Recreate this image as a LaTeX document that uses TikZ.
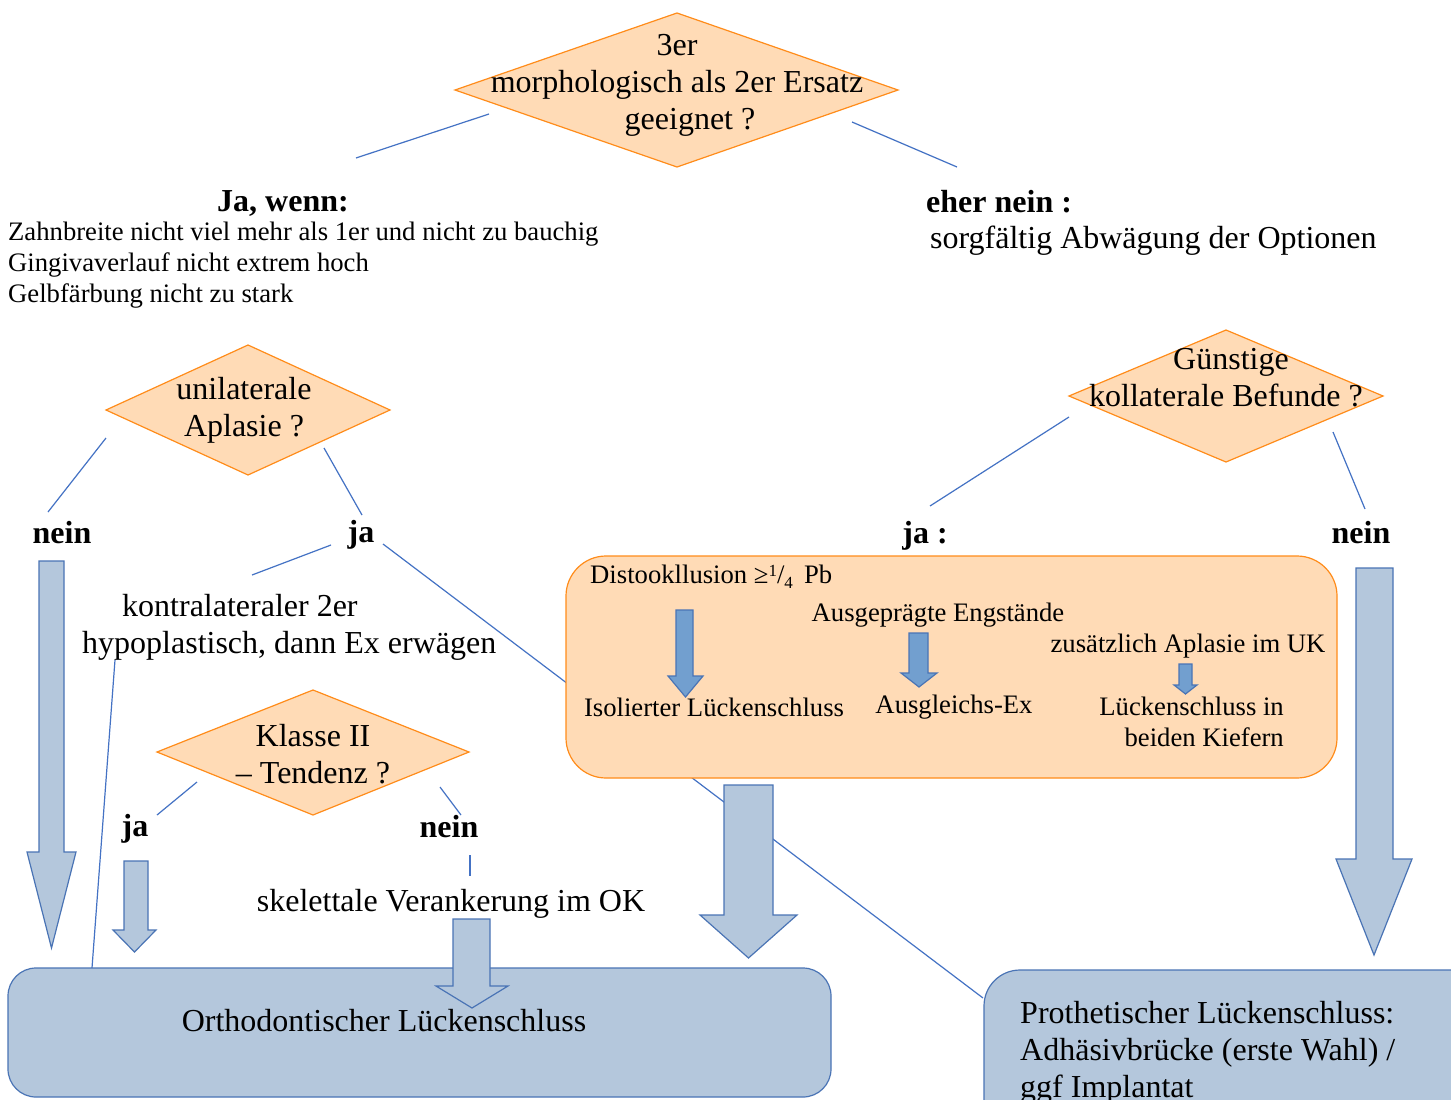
\documentclass[tikz,border=0pt]{standalone}
\usepackage{fontspec}
\setmainfont{Liberation Serif}
\definecolor{orfill}{HTML}{FFDBB6}
\definecolor{ordraw}{HTML}{FF8C1A}
\definecolor{bgfill}{HTML}{B4C7DC}
\definecolor{bgdraw}{HTML}{4A74B5}
\definecolor{linec}{HTML}{4472C4}
\definecolor{arfill}{HTML}{729FCF}
\newcommand{\blockdown}[8]{\draw[#1] (#2,#4) -- (#3,#4) -- (#3,#5) -- (#7,#5) -- ({(#6+#7)/2},#8) -- (#6,#5) -- (#2,#5) -- cycle;}
\begin{document}
\begin{tikzpicture}[x=1pt,y=-1pt,
 big/.style={font=\fontsize{32}{37}\selectfont, inner sep=0pt},
 small/.style={font=\fontsize{26.67}{31}\selectfont, inner sep=0pt},
 bigb/.style={font=\fontsize{32}{37}\selectfont\bfseries, inner sep=0pt},
 conn/.style={draw=linec, line width=1.2pt},
 decision/.style={draw=ordraw, fill=orfill, line width=1.2pt},
 orbox/.style={draw=ordraw, fill=orfill, line width=1.2pt, rounded corners=40pt},
 bluebox/.style={draw=bgdraw, fill=bgfill, line width=1.2pt},
 barrow/.style={draw=bgdraw, fill=bgfill, line width=1.2pt},
 sarrow/.style={draw=bgdraw, fill=arfill, line width=1.2pt},
]
\useasboundingbox (0,0) rectangle (1451,1100);
\clip (0,0) rectangle (1451,1100);
\fill[white] (0,0) rectangle (1451,1100);

% connector end points
\coordinate (a1) at (356,158); \coordinate (a2) at (489,114);
\coordinate (b1) at (852,122); \coordinate (b2) at (957,167);
\coordinate (c1) at (106,438); \coordinate (c2) at (48,512);
\coordinate (d1) at (324,448); \coordinate (d2) at (362,515);
\coordinate (e1) at (331,545); \coordinate (e2) at (252,575);
\coordinate (f1) at (383,544); \coordinate (f2) at (983,998);
\coordinate (g1) at (115,660); \coordinate (g2) at (92,968);
\coordinate (h1) at (197,782); \coordinate (h2) at (157,815);
\coordinate (i1) at (440,787); \coordinate (i2) at (461,815);
\coordinate (j1) at (470,855); \coordinate (j2) at (470,876);
\coordinate (k1) at (1069,417); \coordinate (k2) at (930,506);
\coordinate (l1) at (1333,432); \coordinate (l2) at (1365,509);

\foreach \p in {a,b,c,d,e,f,g,h,i,j,k,l} {\draw[conn] (\p1) -- (\p2);}

% boxes
\draw[bluebox, rounded corners=28pt] (8,968) rectangle (831,1097);
\draw[bluebox, rounded corners=36pt] (984,970) rectangle (1500,1160);
\draw[orbox] (566,556) rectangle (1337,778);

% diamonds
\draw[decision] (677,13) -- (898,90) -- (677,167) -- (455,90) -- cycle;
\draw[decision] (248,345) -- (390,410) -- (248,475) -- (106,410) -- cycle;
\draw[decision] (313,690) -- (469,752) -- (313,815) -- (157,752) -- cycle;
\draw[decision] (1226,330) -- (1383,396) -- (1226,462) -- (1069,396) -- cycle;

% block arrows
\blockdown{barrow}{39}{64}{561}{852}{27}{76}{948}
\blockdown{barrow}{124}{148}{861}{930}{113}{156}{952}
\blockdown{barrow}{453}{490}{919}{986}{436}{508}{1008}
\blockdown{barrow}{724}{773}{785}{915}{700}{797}{958}
\blockdown{barrow}{1356}{1393}{568}{859}{1336}{1412}{955}
\blockdown{sarrow}{676}{693}{610}{676}{668}{703}{697}
\blockdown{sarrow}{909}{928}{633}{673}{901}{937}{687}
\blockdown{sarrow}{1179}{1192}{664}{685}{1174}{1197}{694}

% texts
\node[big, align=center] (q1) at (677,85) {3er\\morphologisch als 2er Ersatz\\\hspace*{26pt}geeignet ?};
\node[bigb] (jawenn) at (283,203) {Ja, wenn:};
\node[small, align=left, anchor=west] (crit) at (8,265) {Zahnbreite nicht viel mehr als 1er und nicht zu bauchig\\Gingivaverlauf nicht extrem hoch\\Gelbfärbung nicht zu stark};
\node[bigb, anchor=west] (ehernein) at (926,202) {eher nein :};
\node[big, anchor=west] (sorg) at (930,241) {sorgfältig Abwägung der Optionen};

\node[big, align=center] (q2) at (244,410) {unilaterale\\Aplasie ?};
\node[bigb] (nein1) at (62,533) {nein};
\node[bigb] (ja1) at (361,535) {ja};
\node[big, align=left, anchor=west] (kontra) at (82,627) {\hspace*{40pt}kontralateraler 2er\\hypoplastisch, dann Ex erwägen};

\node[big, align=center] (q3) at (313,754) {Klasse II\\– Tendenz ?};
\node[bigb] (ja2) at (135,829) {ja};
\node[bigb] (nein2) at (449,827) {nein};
\node[big] (skel) at (451,904) {skelettale Verankerung im OK};
\node[big] (ortho) at (384,1021) {Orthodontischer Lückenschluss};

\node[big, align=center] (q4) at (1226,378) {\hspace*{10pt}Günstige\\kollaterale Befunde ?};
\node[bigb] (ja3) at (925,536) {ja :};
\node[bigb] (nein3) at (1361,533) {nein};

\node[small, anchor=west] (disto) at (590,577) {Distookllusion ≥{\fontsize{17}{17}\selectfont\raisebox{7pt}{1}}/{\fontsize{17}{17}\selectfont\raisebox{-5pt}{4}}\, Pb};
\node[small] (engst) at (938,615) {Ausgeprägte Engstände};
\node[small] (uk) at (1188,646) {zusätzlich Aplasie im UK};
\node[small] (isol) at (714,707) {Isolierter Lückenschluss};
\node[small] (ausgl) at (954,707) {Ausgleichs-Ex};
\node[small, align=right, anchor=east] (beide) at (1284,722) {Lückenschluss in\\beiden Kiefern};

\node[big, align=left, anchor=west] (prot) at (1020,1053) {Prothetischer Lückenschluss:\\Adhäsivbrücke (erste Wahl) /\\ggf Implantat};
\end{tikzpicture}
\end{document}
